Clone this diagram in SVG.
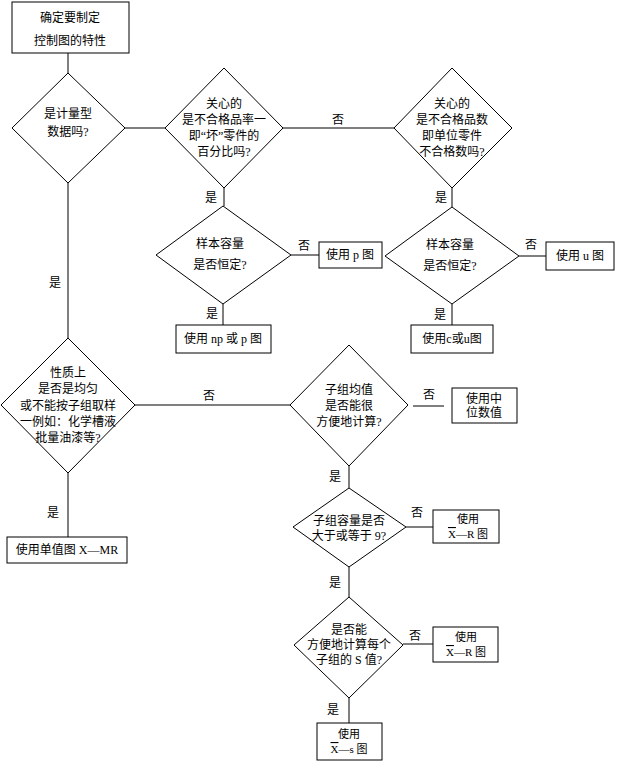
<svg xmlns="http://www.w3.org/2000/svg" width="619" height="763" viewBox="0 0 619 763">
<style>
.n{fill:#fff;stroke:#000;stroke-width:1}
.c line{stroke:#000;stroke-width:1}
text{font-family:"Liberation Serif","Noto Sans CJK SC",serif;font-size:12px;fill:#000;text-anchor:middle;dominant-baseline:central}
.s{font-size:11px}
.ov{text-decoration:overline}
</style>
<rect width="619" height="763" fill="#fff"/>
<g id="connectors" class="c">
<line x1="68" y1="53" x2="68" y2="73"/>
<line x1="125" y1="128" x2="165" y2="128"/>
<line x1="283" y1="128" x2="394" y2="128"/>
<line x1="224" y1="188" x2="224" y2="206"/>
<line x1="291" y1="255" x2="319" y2="255"/>
<line x1="223" y1="304" x2="223" y2="325"/>
<line x1="452" y1="188" x2="452" y2="207"/>
<line x1="519" y1="256" x2="546" y2="256"/>
<line x1="452" y1="304" x2="452" y2="325"/>
<line x1="68" y1="183" x2="68" y2="338"/>
<line x1="135" y1="405" x2="290" y2="405"/>
<line x1="413" y1="406" x2="444" y2="406"/>
<line x1="68" y1="473" x2="68" y2="537"/>
<line x1="349" y1="466" x2="349" y2="488"/>
<line x1="406" y1="527" x2="433" y2="527"/>
<line x1="349" y1="567" x2="349" y2="597"/>
<line x1="403" y1="644" x2="433" y2="644"/>
<line x1="349" y1="698" x2="349" y2="723"/>
<text x="338" y="120">否</text>
<text x="211" y="198">是</text>
<text x="304" y="246">否</text>
<text x="212" y="314">是</text>
<text x="441" y="198">是</text>
<text x="531" y="245">否</text>
<text x="440" y="315">是</text>
<text x="55" y="283">是</text>
<text x="209" y="396">否</text>
<text x="429" y="395">否</text>
<text x="53" y="513">是</text>
<text x="335" y="477">是</text>
<text x="417" y="513">否</text>
<text x="335" y="583">是</text>
<text x="415" y="636">否</text>
<text x="333" y="710">是</text>
</g>
<g id="start">
<rect class="n" x="12" y="2" width="117" height="51"/>
<text x="70" y="18">确定要制定</text>
<text x="70" y="41">控制图的特性</text>
</g>
<g id="d1">
<polygon class="n" points="68,73 125,128 68,183 12,128"/>
<text x="68" y="114">是计量型</text>
<text x="68" y="132">数据吗?</text>
</g>
<g id="d2">
<polygon class="n" points="224,68 283,128 224,188 165,128"/>
<text x="224" y="104">关心的</text>
<text x="224" y="120">是不合格品率一</text>
<text x="224" y="136">即“坏”零件的</text>
<text x="224" y="152">百分比吗?</text>
</g>
<g id="d3">
<polygon class="n" points="452,68 512,128 452,188 394,128"/>
<text x="452" y="104">关心的</text>
<text x="452" y="120">是不合格品数</text>
<text x="452" y="136">即单位零件</text>
<text x="452" y="152">不合格数吗?</text>
</g>
<g id="d4">
<polygon class="n" points="223,206 291,255 223,304 156,255"/>
<text x="220" y="244">样本容量</text>
<text x="220" y="265">是否恒定?</text>
</g>
<g id="box-p">
<rect class="n" x="319" y="242" width="63" height="26"/>
<text x="350" y="255">使用 p 图</text>
</g>
<g id="box-np">
<rect class="n" x="176" y="325" width="95" height="28"/>
<text x="223" y="339">使用 np 或 p 图</text>
</g>
<g id="d5">
<polygon class="n" points="452,207 519,256 452,304 385,256"/>
<text x="450" y="245">样本容量</text>
<text x="450" y="266">是否恒定?</text>
</g>
<g id="box-u">
<rect class="n" x="546" y="242" width="68" height="28"/>
<text x="580" y="256">使用 u 图</text>
</g>
<g id="box-c">
<rect class="n" x="411" y="325" width="82" height="28"/>
<text x="452" y="339">使用c或u图</text>
</g>
<g id="d6">
<polygon class="n" points="68,338 135,405 68,473 1,405"/>
<text x="68" y="373">性质上</text>
<text x="68" y="389">是否是均匀</text>
<text x="68" y="406">或不能按子组取样</text>
<text x="68" y="422">一例如：化学槽液</text>
<text x="68" y="438">批量油漆等?</text>
</g>
<g id="box-xmr">
<rect class="n" x="7" y="537" width="120" height="26"/>
<text x="67" y="550">使用单值图 X—MR</text>
</g>
<g id="d7">
<polygon class="n" points="349,345 408,405 349,466 290,405"/>
<text x="349" y="390">子组均值</text>
<text x="349" y="406">是否能很</text>
<text x="349" y="422">方便地计算?</text>
</g>
<g id="box-median">
<rect class="n" x="452" y="388" width="65" height="35"/>
<text x="484" y="399">使用中</text>
<text x="484" y="413">位数值</text>
</g>
<g id="d8">
<polygon class="n" points="349,488 406,527 349,567 293,527"/>
<text x="349" y="521">子组容量是否</text>
<text x="349" y="536">大于或等于 9?</text>
</g>
<g id="box-xr1">
<rect class="n" x="433" y="510" width="66" height="33"/>
<text class="s" x="468" y="519">使用</text>
<text class="s" x="468" y="534"><tspan class="ov">X</tspan>—R 图</text>
</g>
<g id="d9">
<polygon class="n" points="349,597 403,645 349,698 294,645"/>
<text x="349" y="630">是否能</text>
<text x="349" y="645">方便地计算每个</text>
<text x="349" y="660">子组的 S 值?</text>
</g>
<g id="box-xr2">
<rect class="n" x="433" y="627" width="65" height="35"/>
<text class="s" x="466" y="637">使用</text>
<text class="s" x="466" y="652"><tspan class="ov">X</tspan>—R 图</text>
</g>
<g id="box-xs">
<rect class="n" x="317" y="723" width="65" height="37"/>
<text class="s" x="349" y="734">使用</text>
<text class="s" x="349" y="749"><tspan class="ov">X</tspan>—s 图</text>
</g>
</svg>
